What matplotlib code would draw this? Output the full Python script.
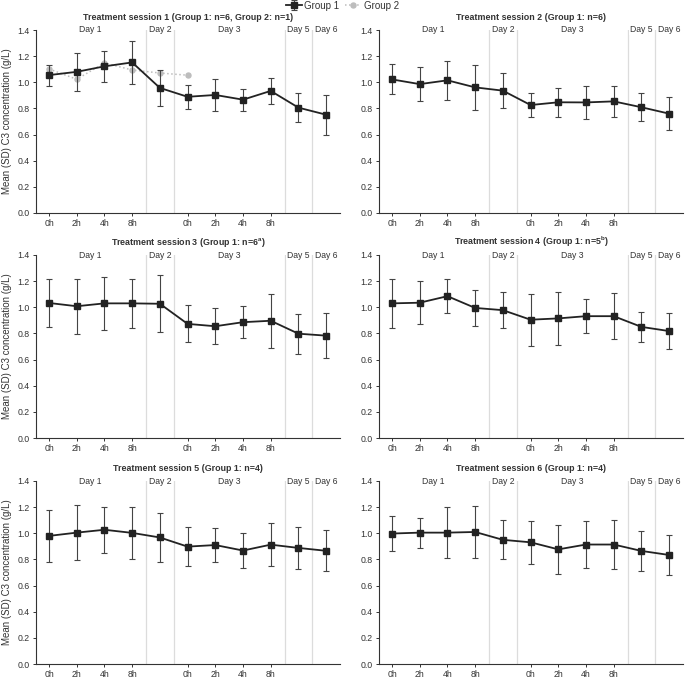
import numpy as np
import matplotlib
matplotlib.use("Agg")
import matplotlib.pyplot as plt

plt.rcParams['font.family'] = ['Liberation Sans', 'DejaVu Sans']
plt.rcParams['mathtext.default'] = 'regular'

# ---- data ----
x_pos = np.arange(11)
tick_pos = [0, 1, 2, 3, 5, 6, 7, 8]
tick_labels = ["0h", "2h", "4h", "8h", "0h", "2h", "4h", "8h"]
day_names = ["Day 1", "Day 2", "Day 3", "Day 5", "Day 6"]
day_centers = [1.5, 4, 6.5, 9, 10]
day_splits = [3.5, 4.5, 8.5, 9.5]

titles = [
    "Treatment session 1 (Group 1: n=6, Group 2: n=1)",
    "Treatment session 2 (Group 1: n=6)",
    "Treatment session 3 (Group 1: n=6$^{a}$)",
    "Treatment session 4 (Group 1: n=5$^{b}$)",
    "Treatment session 5 (Group 1: n=4)",
    "Treatment session 6 (Group 1: n=4)",
]

s1_mean = [1.055, 1.08, 1.122, 1.152, 0.957, 0.889, 0.903, 0.867, 0.934, 0.806, 0.752]
s1_sd = [0.08, 0.144, 0.12, 0.165, 0.14, 0.09, 0.122, 0.083, 0.1, 0.113, 0.153]
s2_mean = [1.022, 0.986, 1.015, 0.961, 0.936, 0.826, 0.847, 0.846, 0.854, 0.809, 0.76]
s2_sd = [0.115, 0.13, 0.15, 0.17, 0.136, 0.095, 0.112, 0.125, 0.117, 0.108, 0.128]
s3_mean = [1.033, 1.008, 1.03, 1.03, 1.027, 0.873, 0.855, 0.886, 0.897, 0.798, 0.783]
s3_sd = [0.18, 0.21, 0.205, 0.185, 0.217, 0.142, 0.137, 0.122, 0.205, 0.152, 0.172]
s4_mean = [1.03, 1.035, 1.085, 0.995, 0.978, 0.905, 0.915, 0.932, 0.932, 0.85, 0.818]
s4_sd = [0.186, 0.166, 0.13, 0.138, 0.14, 0.198, 0.2, 0.13, 0.177, 0.112, 0.138]
s5_mean = [0.98, 1.005, 1.027, 1.003, 0.968, 0.898, 0.91, 0.868, 0.913, 0.888, 0.866]
s5_sd = [0.2, 0.21, 0.175, 0.197, 0.185, 0.15, 0.13, 0.134, 0.165, 0.162, 0.158]
s6_mean = [0.998, 1.005, 1.005, 1.01, 0.95, 0.931, 0.877, 0.914, 0.914, 0.865, 0.834]
s6_sd = [0.137, 0.114, 0.194, 0.199, 0.148, 0.166, 0.19, 0.178, 0.189, 0.15, 0.152]

# Group 2 only in session 1, first six time points
g2_mean = [1.102, 1.023, 1.148, 1.094, 1.071, 1.054]

means = [s1_mean, s2_mean, s3_mean, s4_mean, s5_mean, s6_mean]
sds = [s1_sd, s2_sd, s3_sd, s4_sd, s5_sd, s6_sd]

W, H = 685, 679
fig = plt.figure(figsize=(W / 100, H / 100), dpi=100)

lefts = [36, 379]
tops = [30, 255, 481]
ax_w, ax_h = 304, 183

txt = '#333333'
line_c = '#222222'

for i in range(6):
    r, c = divmod(i, 2)
    ax = fig.add_axes([lefts[c] / W, 1 - (tops[r] + ax_h) / H, ax_w / W, ax_h / H])

    for xs in day_splits:
        ax.axvline(xs, color='#dcdcdc', lw=0.9, zorder=0)
    for name, xc in zip(day_names, day_centers):
        ax.text(xc, 1.4, name, ha='center', va='center', fontsize=6.2, color=txt,
                bbox=dict(facecolor='white', edgecolor='none', pad=0.5))

    if i == 0:
        ax.plot(x_pos[:len(g2_mean)], g2_mean, ls=':', color='#bdbdbd', lw=1.1,
                marker='o', ms=3.6, zorder=2, label='Group 2')

    ax.errorbar(x_pos, means[i], yerr=sds[i], color=line_c, lw=1.3, marker='s', ms=3.8,
                ecolor='#444444', elinewidth=0.8, capsize=2.2, capthick=0.8, zorder=3,
                label='Group 1')

    ax.set_xlim(-0.47, 10.5)
    ax.set_ylim(0, 1.4)
    ax.set_yticks(np.arange(0, 1.41, 0.2))
    ax.set_yticklabels([f"{v:.1f}" for v in np.arange(0, 1.41, 0.2)])
    ax.set_xticks(tick_pos)
    ax.set_xticklabels(tick_labels)
    ax.tick_params(axis='both', labelsize=6.3, colors=txt, length=2.5, width=0.7, pad=2)
    for s in ['top', 'right']:
        ax.spines[s].set_visible(False)
    for s in ['left', 'bottom']:
        ax.spines[s].set_color('#333333')
        ax.spines[s].set_linewidth(0.8)

    ax.set_title(titles[i], fontsize=6.4, fontweight='bold', color=txt, pad=7.5)
    if c == 0:
        ax.set_ylabel("Mean (SD) C3 concentration (g/L)", fontsize=7, color=txt, labelpad=4)

    if i == 0:
        handles, labels = ax.get_legend_handles_labels()
        fig.legend(handles[::-1], labels[::-1], loc='upper center', bbox_to_anchor=(0.5, 1.012),
                   ncol=2, frameon=False, fontsize=7, handlelength=1.6, columnspacing=0.6,
                   handletextpad=0.3, labelcolor=txt)

fig.savefig("out.png", dpi=100)
